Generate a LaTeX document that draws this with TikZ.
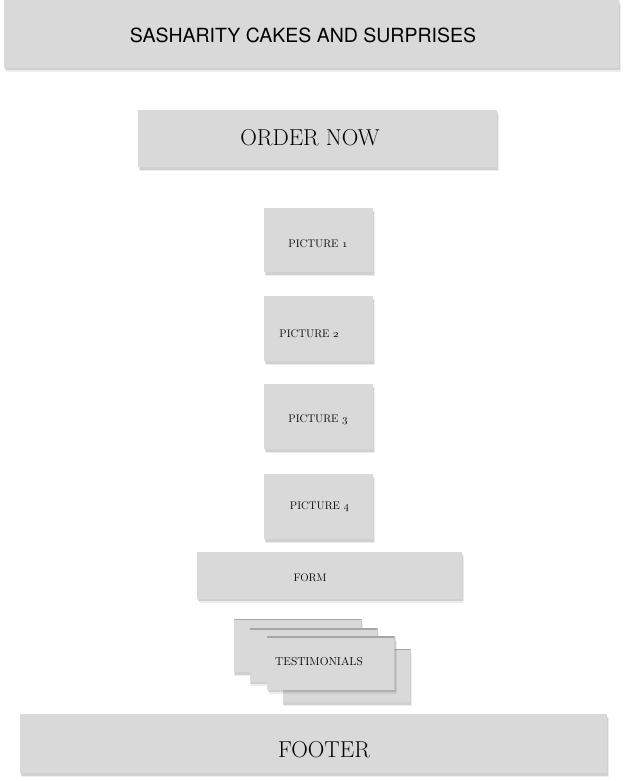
\documentclass[tikz,border=0pt]{standalone}
\usepackage{fontspec}
\newfontfamily\headfont{TeX Gyre Heros}
\usetikzlibrary{shadows}
\definecolor{boxgray}{HTML}{D9D9D9}
\newcommand\onum[1]{$\mathnormal{#1}$}

\begin{document}
\begin{tikzpicture}[x=1pt, y=-1pt,
  panel/.style={fill=boxgray, draw=none, inner sep=0pt,
    drop shadow={shadow xshift=1.5pt, shadow yshift=-4pt, fill=black, opacity=0.07},
    drop shadow={shadow xshift=0.8pt, shadow yshift=-2.5pt, fill=black, opacity=0.12}},
  card/.style={panel, minimum width=128pt, minimum height=53pt,
    path picture={\draw[black!35, line width=2.5pt] (path picture bounding box.north west) -- (path picture bounding box.north east);
      \draw[black!22, line width=1.5pt] (path picture bounding box.north east) -- (path picture bounding box.south east);}},
  word/.style={inner sep=0pt, anchor=base, font=\fontsize{11}{13}\selectfont}]
\useasboundingbox (0,0) rectangle (643,781);
\node[panel, minimum width=615pt, minimum height=68pt] (header) at (311.5,34) {};
\node[word, font=\headfont\fontsize{19.5}{22}\selectfont] (headertext) at (303,42.5) {SASHARITY CAKES AND SURPRISES};
\node[panel, minimum width=359pt, minimum height=57pt] (order) at (317.5,138.5) {};
\node[word, font=\fontsize{23}{26}\selectfont] (ordertext) at (310,145) {ORDER NOW};
\node[panel, minimum width=109pt, minimum height=64pt] (pic1) at (318.5,240) {};
\node[word] (pic1text) at (318,247) {PICTURE \onum{1}};
\node[panel, minimum width=109pt, minimum height=65pt] (pic2) at (318.5,328.5) {};
\node[word] (pic2text) at (309,337) {PICTURE \onum{2}};
\node[panel, minimum width=109pt, minimum height=65pt] (pic3) at (318.5,416.5) {};
\node[word] (pic3text) at (318,422.5) {PICTURE \onum{3}};
\node[panel, minimum width=109pt, minimum height=65pt] (pic4) at (318.5,506.5) {};
\node[word] (pic4text) at (319.5,509) {PICTURE \onum{4}};
\node[panel, minimum width=265pt, minimum height=47pt] (form) at (329.5,575) {};
\node[word] (formtext) at (310,581) {FORM};
\node[card] (card1) at (297.5,645.5) {};
\node[card] (card2) at (313.5,655) {};
\node[card] (card4) at (346.5,675.5) {};
\node[card] (card3) at (331,663) {};
\node[word, font=\fontsize{11.5}{13}\selectfont] (cardtext) at (319,665) {TESTIMONIALS};
\node[panel, minimum width=587pt, minimum height=59pt] (footer) at (313.5,743.5) {};
\node[word, font=\fontsize{23}{26}\selectfont] (footertext) at (324,757) {FOOTER};
\end{tikzpicture}
\end{document}
